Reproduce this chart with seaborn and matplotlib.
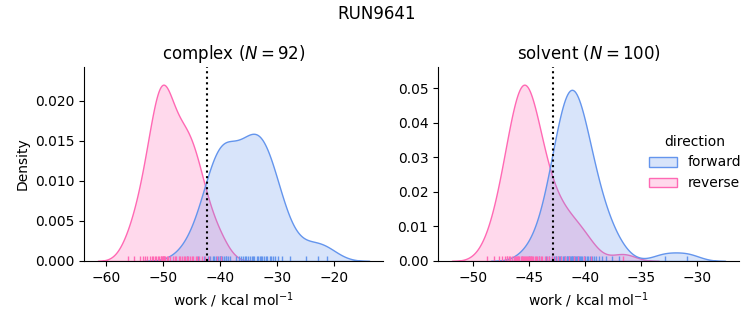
import numpy as np
import pandas as pd
import matplotlib
matplotlib.use("Agg")
import matplotlib.pyplot as plt
import seaborn as sns

complex_reverse = [-56.1, -55.2, -54.0, -53.6, -53.2, -52.8, -52.3, -52.0, -51.7, -51.4,
                   -51.2, -50.9, -50.7, -50.4, -50.3, -50.2, -50.1, -50.0, -49.9, -49.8,
                   -49.6, -49.3, -49.1, -48.8, -48.3, -48.0, -47.7, -47.3, -47.0, -46.7,
                   -46.4, -46.2, -45.9, -45.7, -45.3, -45.0, -44.7, -44.3, -44.0, -43.8,
                   -43.2, -42.7, -42.0, -40.6, -39.8]
complex_forward = [-45.9, -43.9, -42.8, -42.2, -41.8, -41.3, -41.0, -40.7, -40.4, -40.1,
                   -40.0, -39.8, -39.6, -39.3, -39.0, -38.9, -38.7, -38.2, -37.2, -36.7,
                   -36.3, -36.0, -35.7, -35.4, -35.2, -34.7, -34.4, -34.2, -34.0, -33.6,
                   -33.3, -33.1, -32.8, -32.6, -32.3, -32.0, -31.7, -31.3, -31.0, -30.7,
                   -30.3, -29.9, -29.2, -27.8, -25.0, -22.8, -21.3]
solvent_reverse = [-48.7, -48.1, -47.7, -47.4, -47.15, -46.95, -46.8, -46.65, -46.5, -46.35,
                   -46.25, -46.15, -46.05, -46.0, -45.95, -45.85, -45.75, -45.65, -45.6, -45.55,
                   -45.45, -45.35, -45.25, -45.2, -45.1, -45.0, -44.9, -44.85, -44.8, -44.7,
                   -44.6, -44.5, -44.4, -44.25, -44.1, -43.95, -43.8, -43.6, -43.4, -43.2,
                   -42.95, -42.7, -42.4, -42.1, -41.8, -41.4, -41.0, -40.6, -40.1, -39.5,
                   -47.0, -36.6]
solvent_forward = [-45.0, -44.1, -43.5, -43.2, -42.95, -42.75, -42.6, -42.45, -42.3, -42.2,
                   -42.1, -41.95, -41.85, -41.75, -41.65, -41.6, -41.5, -41.4, -41.3, -41.25,
                   -41.2, -41.15, -41.1, -42.6, -41.0, -40.9, -40.8, -40.75, -40.65, -40.55,
                   -40.45, -40.35, -40.25, -40.1, -40.0, -39.85, -39.7, -39.55, -39.4, -39.2,
                   -39.0, -38.75, -38.45, -38.1, -37.6, -37.0, -32.9, -30.9]

phases = ["complex", "solvent"]
directions = ["forward", "reverse"]
dg_estimates = [-42.3, -42.9]
run_name = "RUN9641"

rows = []
for phase, fwd, rev in [("complex", complex_forward, complex_reverse),
                        ("solvent", solvent_forward, solvent_reverse)]:
    for v in fwd:
        rows.append((phase, "forward", v))
    for v in rev:
        rows.append((phase, "reverse", v))
df = pd.DataFrame(rows, columns=["phase", "direction", "work"])

g = sns.displot(df, x="work", hue="direction", col="phase", kind="kde", fill=True,
                rug=True, hue_order=directions, col_order=phases,
                palette={"forward": "cornflowerblue", "reverse": "hotpink"},
                facet_kws=dict(sharex=False, sharey=False), height=3, aspect=1.2)

fig = g.figure
fig.set_size_inches(7.53, 3.25)
fig.set_dpi(100)

positions = [[84 / 753, 64 / 325, 299 / 753, 194 / 325],
             [438 / 753, 64 / 325, 301 / 753, 194 / 325]]
for ax, phase, dg, pos in zip(g.axes.flat, phases, dg_estimates, positions):
    n = int((df["phase"] == phase).sum())
    ax.set_title(f"{phase} ($N={n}$)", fontsize=12)
    ax.axvline(dg, color="k", ls=":")
    ax.set_xlabel("work / kcal mol$^{-1}$")
    ax.set_position(pos)
g.axes.flat[0].set_ylabel("Density")
g.axes.flat[1].set_ylabel("")

sns.move_legend(g, "center left", bbox_to_anchor=(0.845, 0.50), frameon=False)
fig.suptitle(run_name, fontsize=12, y=0.985)

fig.savefig("out.png", dpi=100)
